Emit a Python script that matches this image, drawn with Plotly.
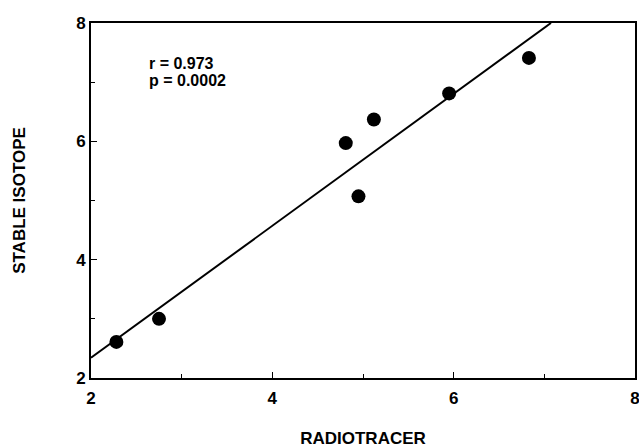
import numpy as np
import plotly.graph_objects as go

radiotracer = [2.28, 2.75, 4.81, 4.95, 5.12, 5.95, 6.83]
stable_isotope = [2.61, 3.0, 5.97, 5.07, 6.37, 6.81, 7.41]
x_ticks = [2, 4, 6, 8]
y_ticks = [2, 4, 6, 8]
stats_lines = ["r = 0.973", "p = 0.0002"]

slope, intercept = np.polyfit(radiotracer, stable_isotope, 1)
x_end = min(8.0, (8.0 - intercept) / slope)
line_x = [2.0, x_end]
line_y = [intercept + slope * v for v in line_x]

font = "Liberation Sans, Arial, sans-serif"

fig = go.Figure()
fig.add_trace(go.Scatter(x=line_x, y=line_y, mode="lines",
                         line=dict(color="black", width=2), showlegend=False))
fig.add_trace(go.Scatter(x=radiotracer, y=stable_isotope, mode="markers",
                         marker=dict(color="black", size=14), showlegend=False))

for i, txt in enumerate(stats_lines):
    fig.add_annotation(x=0.103, y=0.885 - i * 0.048, xref="paper", yref="paper", text="<b>" + txt + "</b>",
                       showarrow=False, xanchor="left", yanchor="middle", align="left",
                       font=dict(family=font, size=16, color="black"))

axis_common = dict(showgrid=False, zeroline=False, showline=True, linecolor="black", linewidth=2,
                   mirror=True, ticks="inside", ticklen=6, tickwidth=1, tickcolor="black",
                   automargin=False, ticklabeloverflow="allow",
                   tickfont=dict(family=font, size=17, color="black"),
                   minor=dict(ticks="inside", ticklen=4, tickwidth=1, tickcolor="black", dtick=1))

fig.update_xaxes(range=[2, 8], tickvals=x_ticks, ticktext=["<b>%d</b>" % v for v in x_ticks],
                 ticklabelstandoff=4,
                 title=dict(text="<b>RADIOTRACER</b>", font=dict(family=font, size=17, color="black"), standoff=26),
                 **axis_common)
fig.update_yaxes(range=[2, 8], tickvals=y_ticks, ticktext=["<b>%d</b>" % v for v in y_ticks],
                 title=dict(text="<b>STABLE ISOTOPE</b>", font=dict(family=font, size=17, color="black"), standoff=46),
                 **axis_common)

fig.update_layout(width=639, height=448, margin=dict(l=91, r=4, t=23, b=70),
                  plot_bgcolor="white", paper_bgcolor="white")
fig.write_html("out.html")
